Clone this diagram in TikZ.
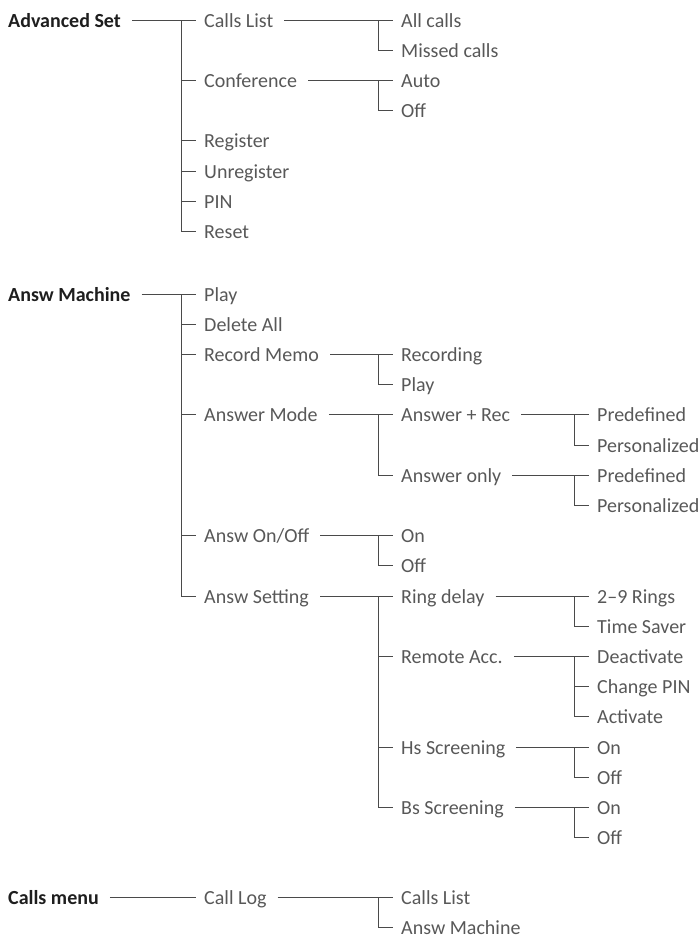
\documentclass[tikz,border=0pt]{standalone}
\usepackage{fontspec}
\setmainfont{Carlito}
\definecolor{txtgray}{HTML}{585858}
\definecolor{hdgray}{HTML}{1E1E1E}
\definecolor{lngray}{HTML}{4A4A4A}
\tikzset{
  lbl/.style={anchor=west, inner sep=0pt, text height=14pt, text depth=0pt, text=txtgray, font=\fontsize{20}{24}\selectfont},
  hd/.style={lbl, text=hdgray, font=\fontsize{20}{24}\selectfont\bfseries},
  ln/.style={draw=lngray, line width=1pt},
}
\newcommand\linkfirst[2]{\draw[ln] ([xshift=11pt]#1.east) -- ([xshift=-8pt]#2.west);}
\newcommand\linkvert[2]{\draw[ln] ([xshift=-23pt]#1.west) |- ([xshift=-8pt]#2.west);}
\newcommand\linktick[1]{\draw[ln] ([xshift=-23pt]#1.west) -- ([xshift=-8pt]#1.west);}
\begin{document}
\begin{tikzpicture}[x=1pt,y=-1pt]
\useasboundingbox (0,0) rectangle (700,937);
% ---------- Advanced Set ----------
\node[hd]  (as)  at (8,20) {Advanced Set};
\node[lbl] (a1)  at (204,20) {Calls List};
\node[lbl] (a2)  at (204,80.4) {Conference};
\node[lbl] (a3)  at (204,140.8) {Register};
\node[lbl] (a4)  at (204,171) {Unregister};
\node[lbl] (a5)  at (204,201.2) {PIN};
\node[lbl] (a6)  at (204,231.4) {Reset};
\node[lbl] (a11) at (401,20) {All calls};
\node[lbl] (a12) at (401,50.2) {Missed calls};
\node[lbl] (a21) at (401,80.4) {Auto};
\node[lbl] (a22) at (401,110.6) {Off};
\linkfirst{as}{a1}
\linkvert{a1}{a6}
\linktick{a2}\linktick{a3}\linktick{a4}\linktick{a5}
\linkfirst{a1}{a11}
\linkvert{a11}{a12}
\linkfirst{a2}{a21}
\linkvert{a21}{a22}
% ---------- Answ Machine ----------
\node[hd]  (am)   at (8,294) {Answ Machine};
\node[lbl] (b1)   at (204,294) {Play};
\node[lbl] (b2)   at (204,324.2) {Delete All};
\node[lbl] (b3)   at (204,354.4) {Record Memo};
\node[lbl] (b4)   at (204,414.8) {Answer Mode};
\node[lbl] (b5)   at (204,535.6) {Answ On/Off};
\node[lbl] (b6)   at (204,596) {Answ Setting};
\node[lbl] (b31)  at (401,354.4) {Recording};
\node[lbl] (b32)  at (401,384.6) {Play};
\node[lbl] (b41)  at (401,414.8) {Answer + Rec};
\node[lbl] (b42)  at (401,475.2) {Answer only};
\node[lbl] (b411) at (597,414.8) {Predefined};
\node[lbl] (b412) at (597,445) {Personalized};
\node[lbl] (b421) at (597,475.2) {Predefined};
\node[lbl] (b422) at (597,505.4) {Personalized};
\node[lbl] (b51)  at (401,535.6) {On};
\node[lbl] (b52)  at (401,565.8) {Off};
\node[lbl] (b61)  at (401,596) {Ring delay};
\node[lbl] (b62)  at (401,656.4) {Remote Acc.};
\node[lbl] (b63)  at (401,747) {Hs Screening};
\node[lbl] (b64)  at (401,807.4) {Bs Screening};
\node[lbl] (b611) at (597,596) {2–9 Rings};
\node[lbl] (b612) at (597,626.2) {Time Saver};
\node[lbl] (b621) at (597,656.4) {Deactivate};
\node[lbl] (b622) at (597,686.6) {Change PIN};
\node[lbl] (b623) at (597,716.8) {Activate};
\node[lbl] (b631) at (597,747) {On};
\node[lbl] (b632) at (597,777.2) {Off};
\node[lbl] (b641) at (597,807.4) {On};
\node[lbl] (b642) at (597,837.6) {Off};
\linkfirst{am}{b1}
\linkvert{b1}{b6}
\linktick{b2}\linktick{b3}\linktick{b4}\linktick{b5}
\linkfirst{b3}{b31}
\linkvert{b31}{b32}
\linkfirst{b4}{b41}
\linkvert{b41}{b42}
\linkfirst{b41}{b411}
\linkvert{b411}{b412}
\linkfirst{b42}{b421}
\linkvert{b421}{b422}
\linkfirst{b5}{b51}
\linkvert{b51}{b52}
\linkfirst{b6}{b61}
\linkvert{b61}{b64}
\linktick{b62}\linktick{b63}
\linkfirst{b61}{b611}
\linkvert{b611}{b612}
\linkfirst{b62}{b621}
\linkvert{b621}{b623}
\linktick{b622}
\linkfirst{b63}{b631}
\linkvert{b631}{b632}
\linkfirst{b64}{b641}
\linkvert{b641}{b642}
% ---------- Calls menu ----------
\node[hd]  (cm)  at (8,897.5) {Calls menu};
\node[lbl] (c1)  at (204,897.5) {Call Log};
\node[lbl] (c11) at (401,897.5) {Calls List};
\node[lbl] (c12) at (401,927) {Answ Machine};
\linkfirst{cm}{c1}
\linkfirst{c1}{c11}
\linkvert{c11}{c12}
\end{tikzpicture}
\end{document}
